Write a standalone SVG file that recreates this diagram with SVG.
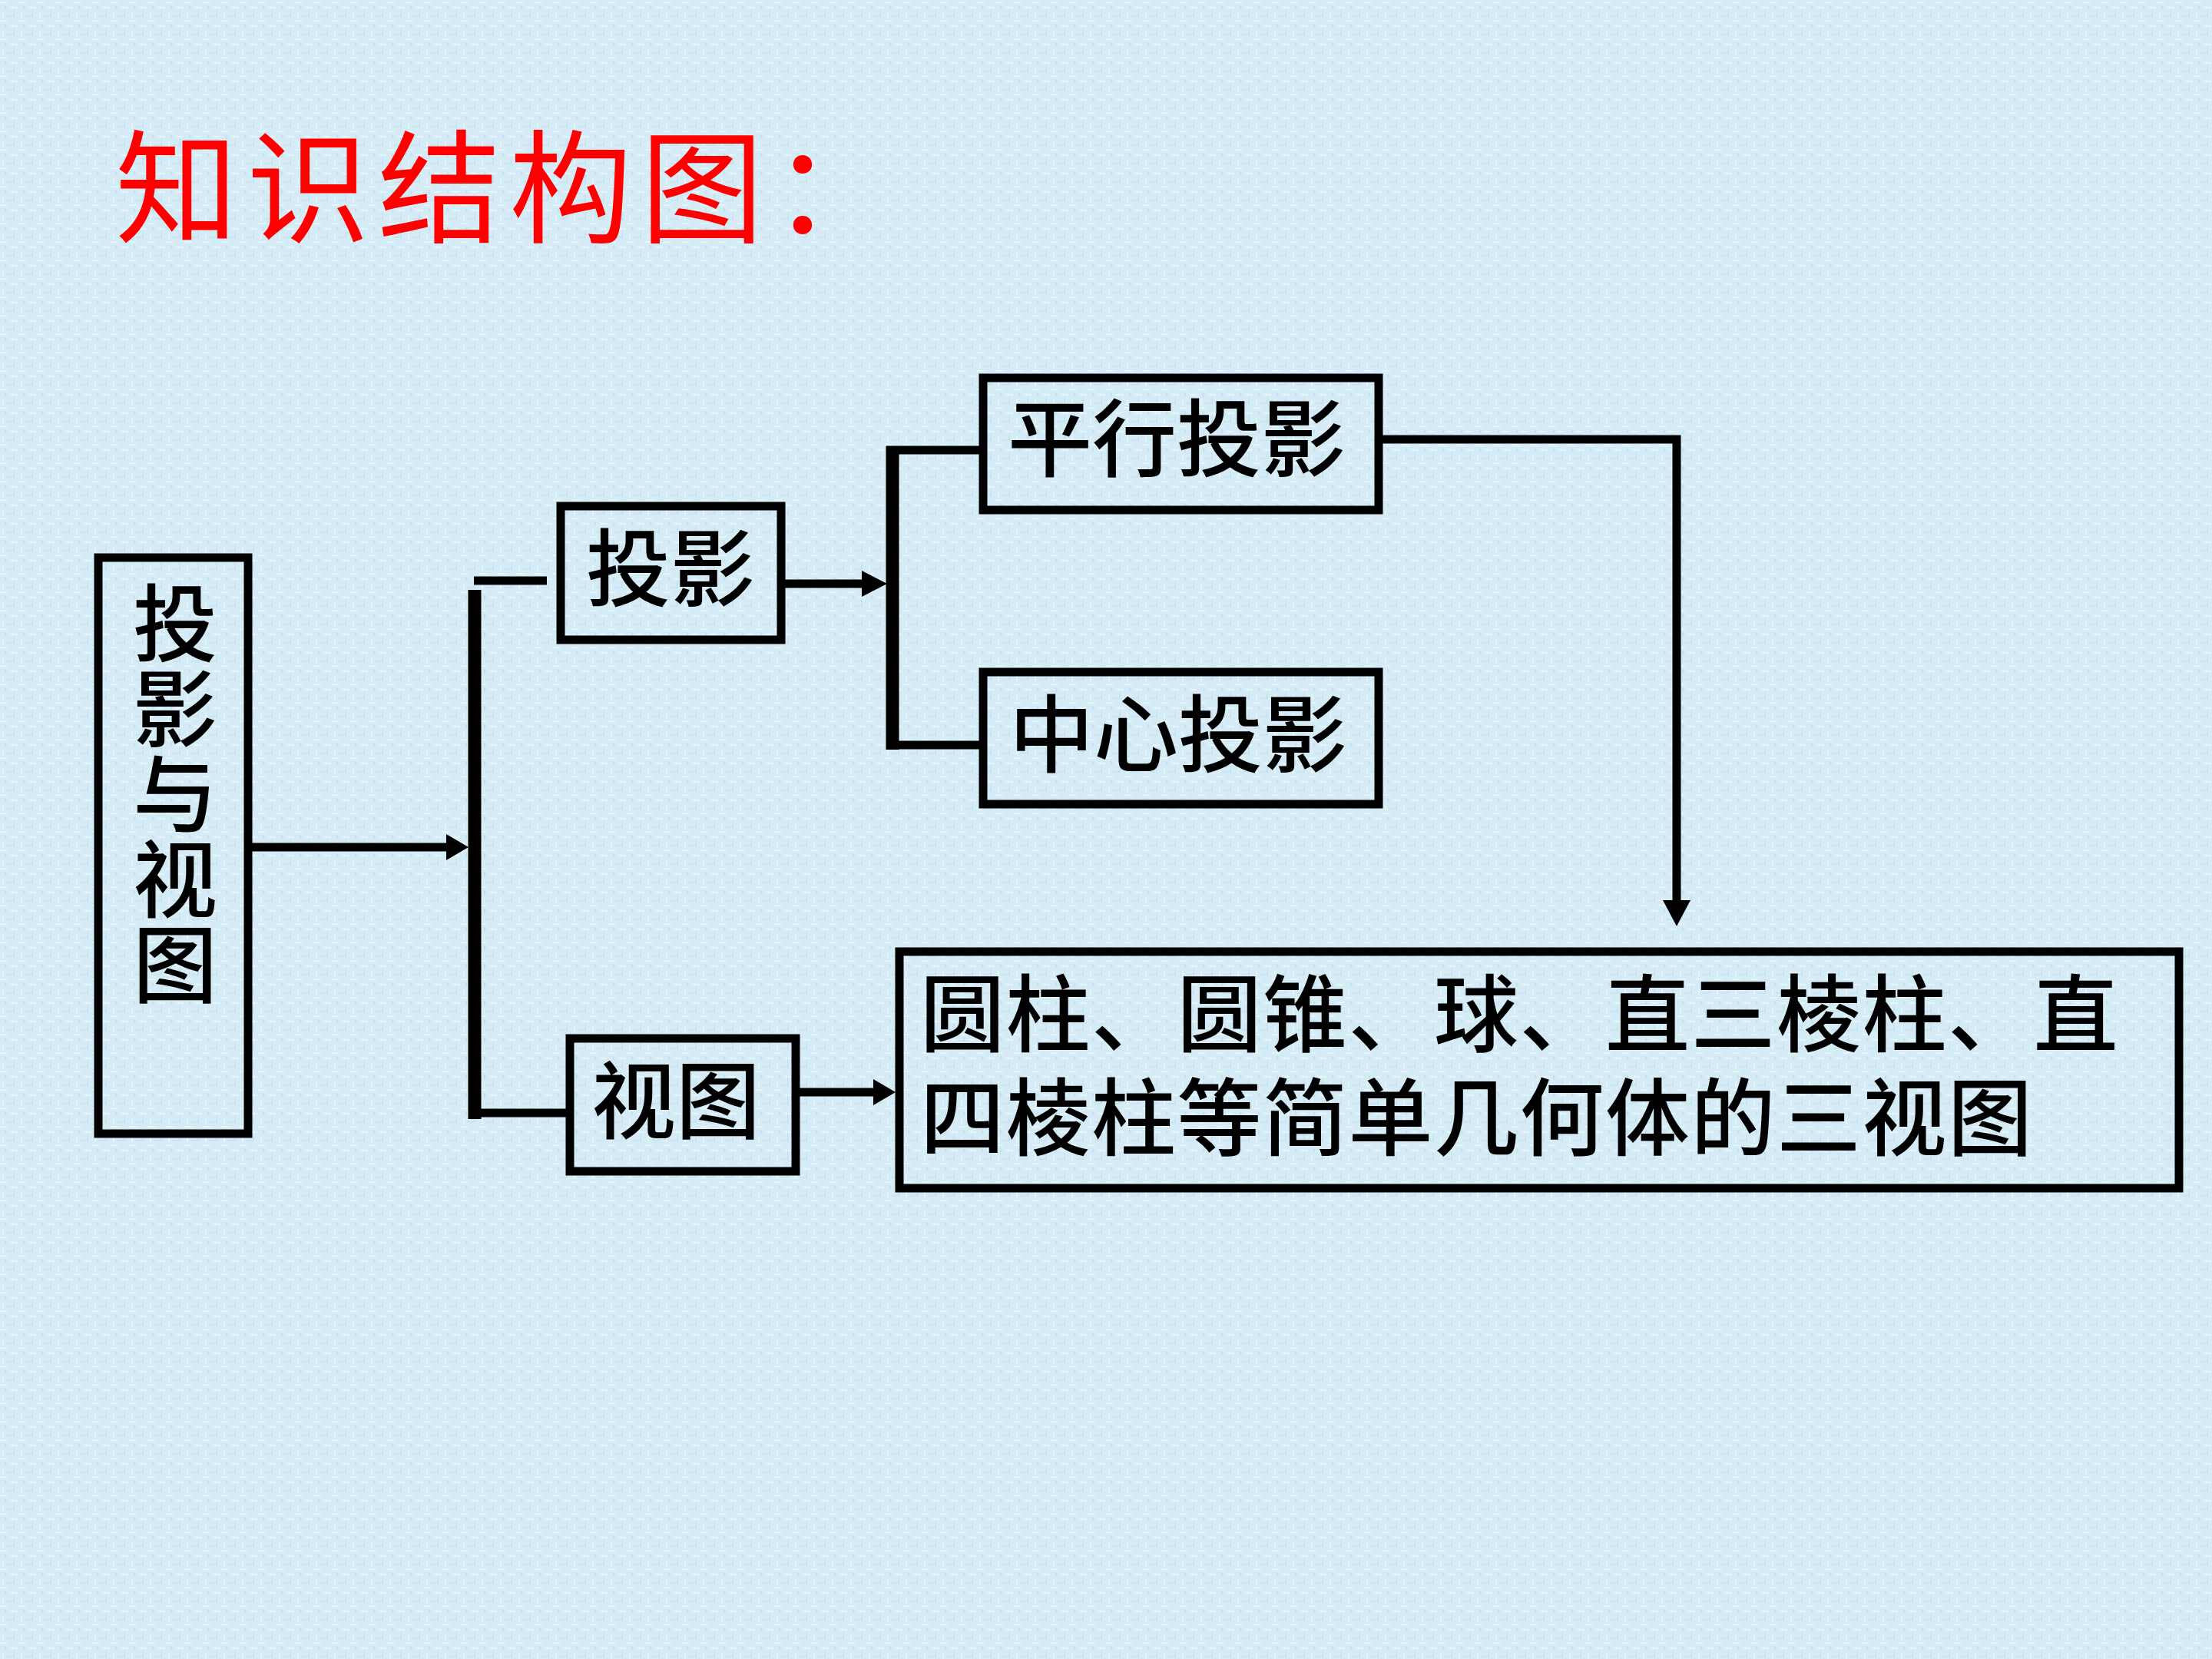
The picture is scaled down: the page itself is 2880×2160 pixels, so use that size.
<svg xmlns="http://www.w3.org/2000/svg" width="2880" height="2160" viewBox="0 0 2880 2160">
<style>
.box{fill:none;stroke:#000;stroke-width:11}
.ln{fill:none;stroke:#000;stroke-width:11;stroke-linecap:butt}
.lt{fill:none;stroke:#000;stroke-width:17}
.ah{fill:#000;stroke:none}
.t{font-family:"Noto Sans CJK SC","Noto Sans CJK TC",sans-serif;font-size:110px;fill:#000;font-weight:500}
.title{font-family:"Noto Sans CJK SC",sans-serif;font-size:160px;fill:#ff0000;letter-spacing:11px}
</style>
<defs>
<pattern id="tex" width="24" height="24" patternUnits="userSpaceOnUse">
<rect width="24" height="24" fill="#d5ecf6"/>
<rect x="0" y="2" width="10" height="2" fill="#e4f6fc"/>
<rect x="13" y="9" width="9" height="2" fill="#e4f6fc"/>
<rect x="3" y="16" width="2" height="7" fill="#e2f5fb"/>
<rect x="17" y="13" width="2" height="9" fill="#c9e2ef"/>
<rect x="6" y="7" width="2" height="6" fill="#c9e2ef"/>
<rect x="9" y="20" width="8" height="2" fill="#cbe3ef"/>
</pattern>
</defs>
<rect width="2880" height="2160" fill="url(#tex)"/>
<text class="title" x="150" y="304">知识结构图：</text>

<g id="n-root">
<rect class="box" x="128" y="726" width="195" height="750"/>
<text class="t" x="228" y="756" writing-mode="vertical-rl" style="letter-spacing:1px">投影与视图</text>
</g>
<g id="n-touying">
<rect class="box" x="730" y="659" width="287" height="174"/>
<text class="t" x="873" y="781" text-anchor="middle">投影</text>
</g>
<g id="n-shitu">
<rect class="box" x="742" y="1352" width="294" height="173"/>
<text class="t" x="880" y="1474" text-anchor="middle">视图</text>
</g>
<g id="n-pingxing">
<rect class="box" x="1280" y="492" width="515" height="172"/>
<text class="t" x="1532" y="612" text-anchor="middle">平行投影</text>
</g>
<g id="n-zhongxin">
<rect class="box" x="1280" y="875" width="515" height="172"/>
<text class="t" x="1534" y="997" text-anchor="middle">中心投影</text>
</g>
<g id="n-sanshitu">
<rect class="box" x="1171" y="1239" width="1666" height="308"/>
<text class="t" style="letter-spacing:1.5px"><tspan x="1198" y="1361">圆柱、圆锥、球、直三棱柱、直</tspan><tspan x="1198" y="1496">四棱柱等简单几何体的三视图</tspan></text>
</g>

<g id="connectors">
<line class="ln" x1="328" y1="1103" x2="584" y2="1103"/>
<polygon class="ah" points="581,1086 610,1103 581,1120"/>
<line class="lt" x1="618" y1="768" x2="618" y2="1457"/>
<line class="ln" x1="617" y1="756" x2="712" y2="756"/>
<line class="ln" x1="610" y1="1449" x2="737" y2="1449"/>
<line class="ln" x1="1022" y1="760" x2="1125" y2="760"/>
<polygon class="ah" points="1122,743 1155,760 1122,777"/>
<line class="lt" x1="1162" y1="581" x2="1162" y2="976"/>
<line class="ln" x1="1154" y1="586" x2="1275" y2="586"/>
<line class="ln" x1="1154" y1="970" x2="1275" y2="970"/>
<polyline class="ln" points="1800,572 2183,572 2183,1176"/>
<polygon class="ah" points="2165,1172 2201,1172 2183,1206"/>
<line class="ln" x1="1041" y1="1422" x2="1140" y2="1422"/>
<polygon class="ah" points="1137,1405 1166,1422 1137,1439"/>
</g>
</svg>
